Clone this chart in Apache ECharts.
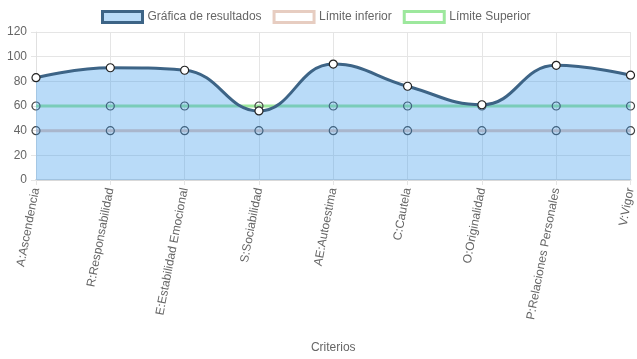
<!DOCTYPE html>
<html><head><meta charset="utf-8">
<script src="https://cdn.jsdelivr.net/npm/echarts@6/dist/echarts.min.js"></script>
<style>html,body{margin:0;padding:0;background:#fff}#c{width:637px;height:359px}</style>
</head><body><div id="c"></div>
<script>
var categories = ["A:Ascendencia","R:Responsabilidad","E:Estabilidad Emocional","S:Sociabilidad","AE:Autoestima","C:Cautela","O:Originalidad","P:Relaciones Personales","V:Vigor"];
var resultados = [83, 91, 89, 56, 94, 76, 61, 93, 85];
var limiteInferior = [40, 40, 40, 40, 40, 40, 40, 40, 40];
var limiteSuperior = [60, 60, 60, 60, 60, 60, 60, 60, 60];
var seriesNames = ["Gráfica de resultados", "Límite inferior", "Límite Superior"];
var yTicks = {min: 0, max: 120, interval: 20};
var xAxisTitle = "Criterios";

var font = "'Liberation Sans', Arial, sans-serif";
var chart = echarts.init(document.getElementById('c'), null, {renderer: 'canvas'});
chart.setOption({
  animation: false,
  textStyle: {fontFamily: font},
  grid: {left: 36, right: 4, top: 32, bottom: 179, containLabel: false},
  legend: {
    top: 10, left: 101, padding: 0, itemWidth: 40, itemHeight: 11, itemGap: 11,
    textStyle: {fontFamily: font, fontSize: 12, color: '#666'},
    data: [
      {name: seriesNames[0], icon: 'rect', itemStyle: {color: '#b9dbf8', borderColor: '#3d6486', borderWidth: 3}},
      {name: seriesNames[1], icon: 'rect', itemStyle: {color: '#fff', borderColor: '#e7cdc1', borderWidth: 3}},
      {name: seriesNames[2], icon: 'rect', itemStyle: {color: '#fff', borderColor: '#9de89d', borderWidth: 3}}
    ]
  },
  xAxis: {
    type: 'category', data: categories, boundaryGap: false,
    name: xAxisTitle, nameLocation: 'middle', nameGap: 162,
    nameTextStyle: {fontFamily: font, fontSize: 12, color: '#666'},
    axisLine: {show: true, lineStyle: {color: '#d9d9d9', width: 2}},
    axisTick: {show: true, length: 5, lineStyle: {color: '#e5e5e5'}},
    splitLine: {show: true, lineStyle: {color: '#e5e5e5'}},
    axisLabel: {rotate: 79, margin: 8, fontFamily: font, fontSize: 12, color: '#666', interval: 0}
  },
  yAxis: {
    type: 'value', min: yTicks.min, max: yTicks.max, interval: yTicks.interval,
    axisLine: {show: true, lineStyle: {color: '#e0e0e0'}},
    axisTick: {show: true, length: 5, lineStyle: {color: '#e5e5e5'}},
    splitLine: {show: true, lineStyle: {color: '#e5e5e5'}},
    axisLabel: {margin: 9, fontFamily: font, fontSize: 12, color: '#666'}
  },
  series: [
    {
      name: seriesNames[0], type: 'line', data: resultados, smooth: 0.45, z: 3,
      symbol: 'circle', symbolSize: 8,
      lineStyle: {color: '#3d6486', width: 3},
      itemStyle: {color: '#ffffff', borderColor: '#222', borderWidth: 1.2},
      areaStyle: {color: 'rgba(61,155,236,0.36)', opacity: 1, origin: 'start'}
    },
    {
      name: seriesNames[1], type: 'line', data: limiteInferior, z: 2,
      symbol: 'circle', symbolSize: 8,
      lineStyle: {color: '#e6c5ba', width: 3},
      itemStyle: {color: 'rgba(255,255,255,0)', borderColor: '#444', borderWidth: 1.2}
    },
    {
      name: seriesNames[2], type: 'line', data: limiteSuperior, z: 2,
      symbol: 'circle', symbolSize: 8,
      lineStyle: {color: '#9de89d', width: 3},
      itemStyle: {color: 'rgba(255,255,255,0)', borderColor: '#444', borderWidth: 1.2}
    }
  ]
});
</script></body></html>
